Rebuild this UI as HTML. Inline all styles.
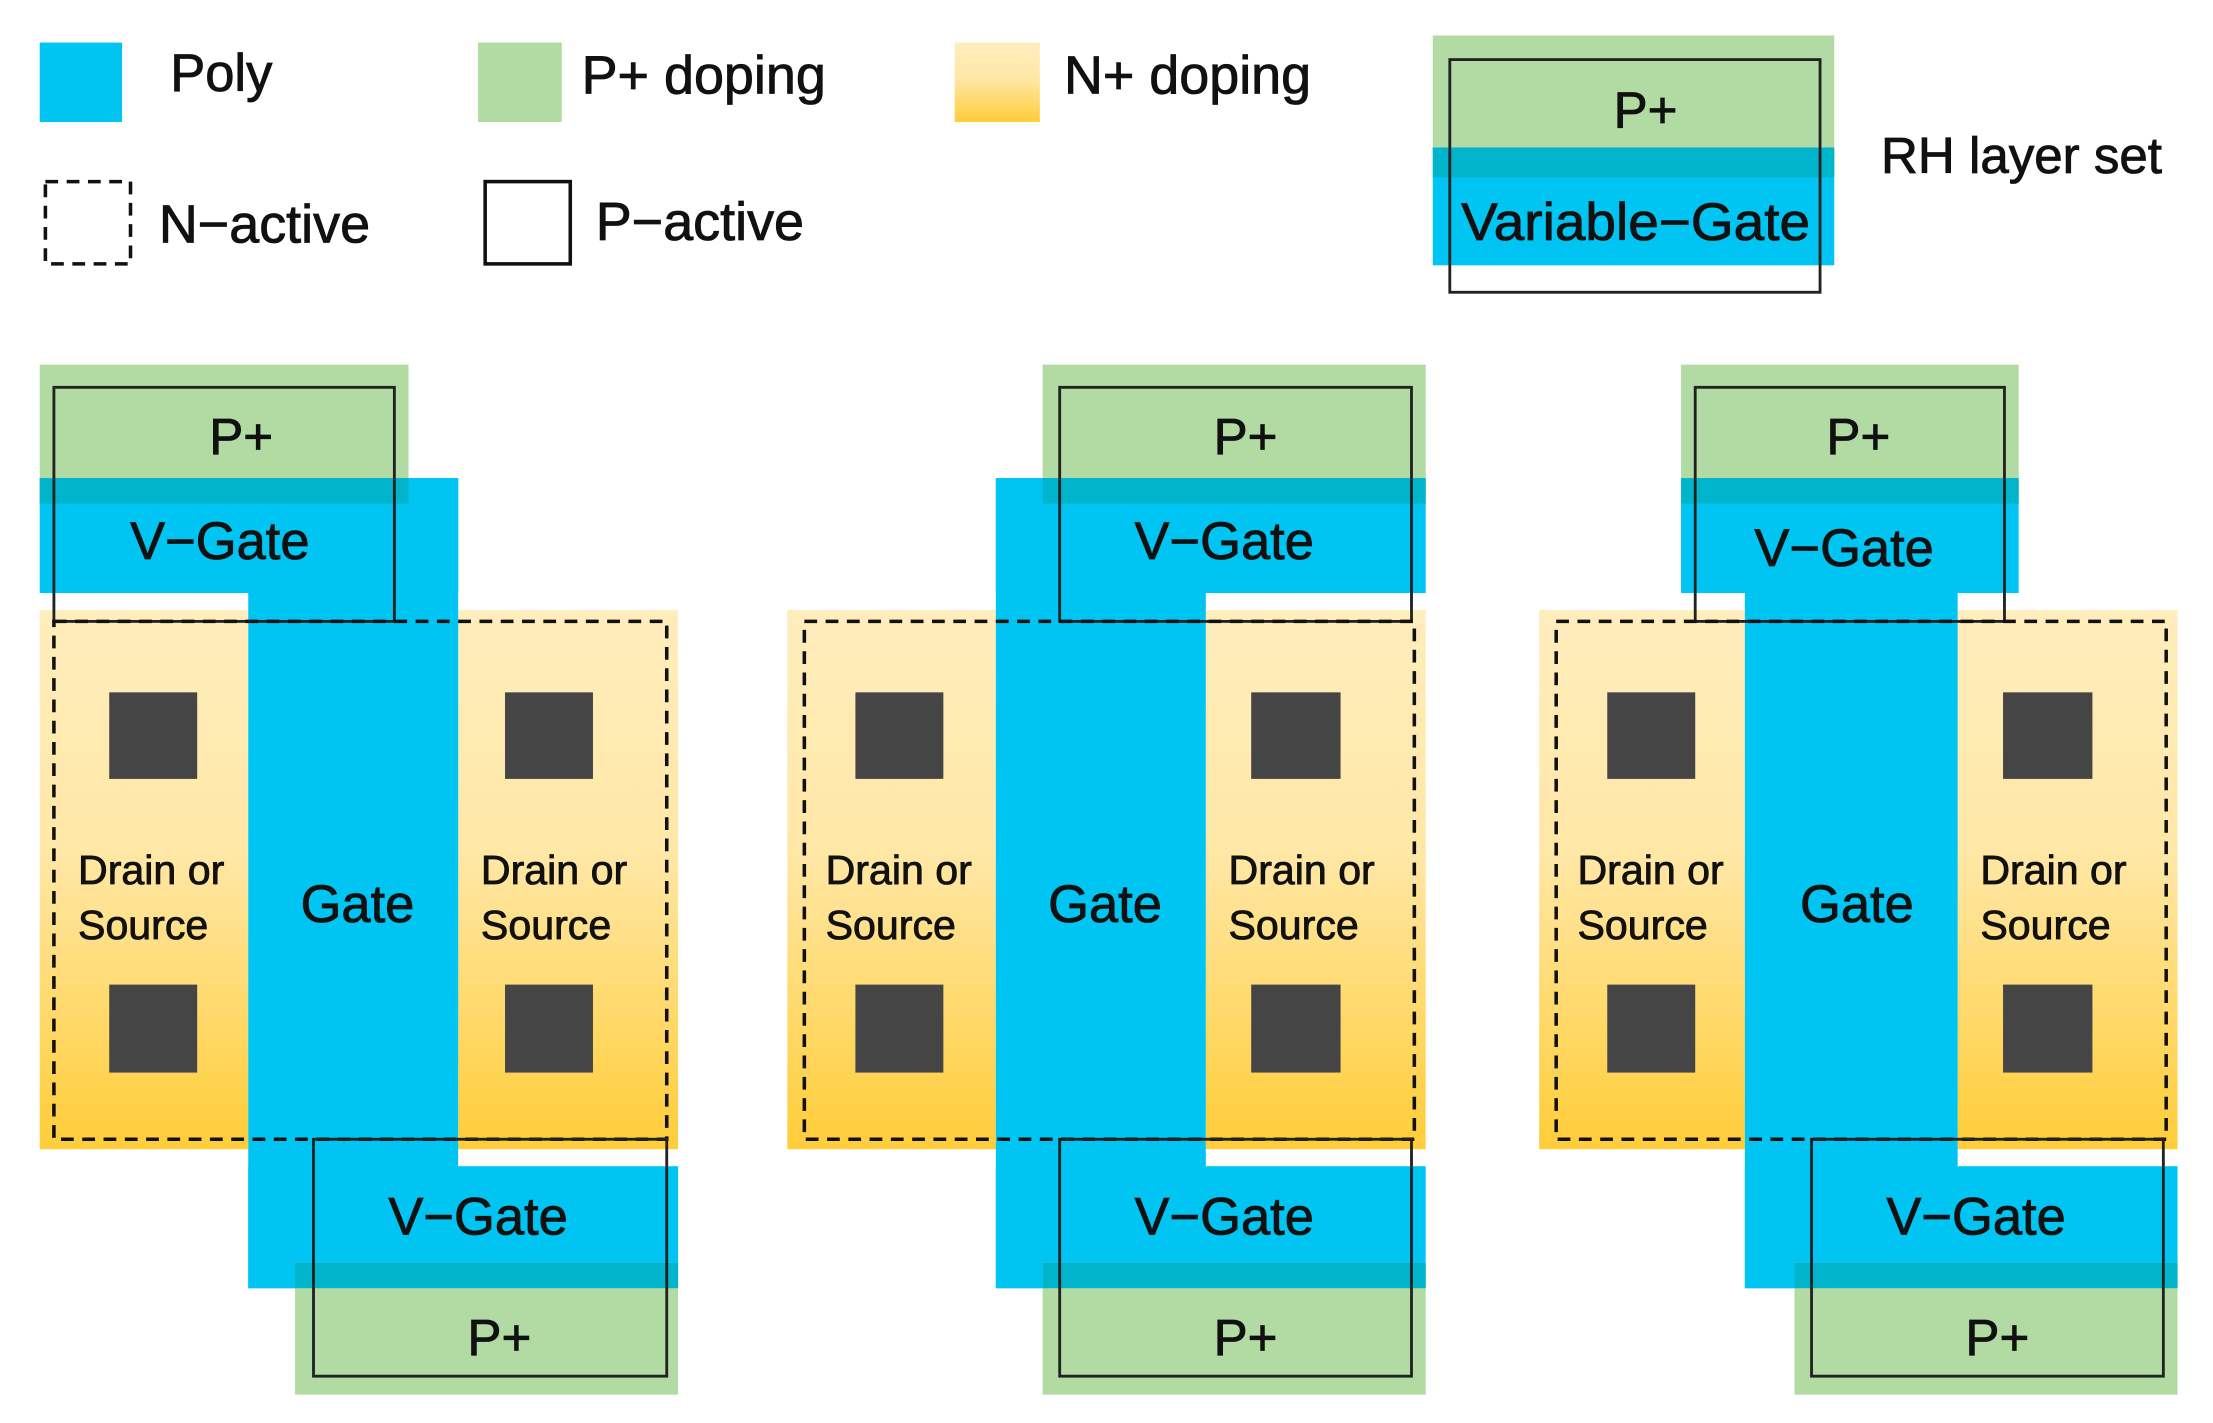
<!DOCTYPE html>
<html><head><style>
html,body{margin:0;padding:0;background:#fff;}
svg{display:block;}
text{font-family:"Liberation Sans",sans-serif;fill:#111;stroke:#111;stroke-width:0.6;}
</style></head><body>
<svg width="2213" height="1423" viewBox="0 0 1560 1003" preserveAspectRatio="none" xmlns="http://www.w3.org/2000/svg">
<defs>
<linearGradient id="n" x1="0" y1="0" x2="0" y2="1">
<stop offset="0" stop-color="#FFEDBC"/><stop offset="0.45" stop-color="#FFE7A6"/><stop offset="1" stop-color="#FFCD38"/>
</linearGradient>
</defs>
<!-- Legend -->
<rect x="28" y="30" width="58" height="56" fill="#00C5F3"/>
<text x="120" y="64" font-size="37">Poly</text>
<rect x="337" y="30" width="59" height="56" fill="#B1DBA3"/>
<text x="410" y="66" font-size="38">P+ doping</text>
<rect x="673" y="30" width="60" height="56" fill="url(#n)"/>
<text x="750" y="66" font-size="38">N+ doping</text>
<rect x="32" y="128" width="60" height="58" fill="none" stroke="#111" stroke-width="2.5" stroke-dasharray="9,6"/>
<text x="112" y="171" font-size="38">N−active</text>
<rect x="342" y="128" width="60" height="58" fill="none" stroke="#111" stroke-width="2.5"/>
<text x="420" y="169" font-size="38">P−active</text>
<!-- RH set -->
<rect x="1010" y="25" width="283" height="80" fill="#B1DBA3"/>
<rect x="1010" y="104" width="283" height="83" fill="#00C5F3"/>
<rect x="1010" y="104" width="283" height="21" fill="#00B4CC"/>
<rect x="1022" y="42" width="261" height="164" fill="none" stroke="#222" stroke-width="2"/>
<text x="1160" y="90" font-size="36" text-anchor="middle">P+</text>
<text x="1153" y="169" font-size="37" text-anchor="middle" textLength="246" lengthAdjust="spacingAndGlyphs">Variable−Gate</text>
<text x="1326" y="122" font-size="36">RH layer set</text>

<!-- Device 1 -->
<g>
<rect x="28" y="430" width="147" height="380" fill="url(#n)"/>
<rect x="323" y="430" width="155" height="380" fill="url(#n)"/>
<rect x="28" y="257" width="260" height="98" fill="#B1DBA3"/>
<rect x="28" y="337" width="295" height="81" fill="#00C5F3"/>
<rect x="175" y="337" width="148" height="571" fill="#00C5F3"/>
<rect x="28" y="337" width="260" height="18" fill="#00B4CC"/>
<rect x="175" y="822" width="303" height="86" fill="#00C5F3"/>
<rect x="208" y="890" width="270" height="93" fill="#B1DBA3"/>
<rect x="208" y="890" width="270" height="18" fill="#00B4CC"/>
<rect x="77" y="488" width="62" height="61" fill="#454545"/>
<rect x="77" y="694" width="62" height="62" fill="#454545"/>
<rect x="356" y="488" width="62" height="61" fill="#454545"/>
<rect x="356" y="694" width="62" height="62" fill="#454545"/>
<rect x="38" y="273" width="240" height="165" fill="none" stroke="#222" stroke-width="2"/>
<rect x="38" y="438" width="432" height="365" fill="none" stroke="#111" stroke-width="2.5" stroke-dasharray="9,6"/>
<rect x="221" y="803" width="249" height="167" fill="none" stroke="#222" stroke-width="2"/>
<text x="170" y="320" font-size="36" text-anchor="middle">P+</text>
<text x="155" y="394" font-size="37" text-anchor="middle">V−Gate</text>
<text x="252" y="650" font-size="37" text-anchor="middle">Gate</text>
<text x="55" y="623" font-size="29">Drain or</text><text x="55" y="662" font-size="29">Source</text>
<text x="339" y="623" font-size="29">Drain or</text><text x="339" y="662" font-size="29">Source</text>
<text x="337" y="870" font-size="37" text-anchor="middle">V−Gate</text>
<text x="352" y="955" font-size="36" text-anchor="middle">P+</text>
</g>

<!-- Device 2 -->
<g>
<rect x="555" y="430" width="147" height="380" fill="url(#n)"/>
<rect x="850" y="430" width="155" height="380" fill="url(#n)"/>
<rect x="735" y="257" width="270" height="98" fill="#B1DBA3"/>
<rect x="702" y="337" width="303" height="81" fill="#00C5F3"/>
<rect x="702" y="337" width="148" height="571" fill="#00C5F3"/>
<rect x="735" y="337" width="270" height="18" fill="#00B4CC"/>
<rect x="702" y="822" width="303" height="86" fill="#00C5F3"/>
<rect x="735" y="890" width="270" height="93" fill="#B1DBA3"/>
<rect x="735" y="890" width="270" height="18" fill="#00B4CC"/>
<rect x="603" y="488" width="62" height="61" fill="#454545"/>
<rect x="603" y="694" width="62" height="62" fill="#454545"/>
<rect x="882" y="488" width="63" height="61" fill="#454545"/>
<rect x="882" y="694" width="63" height="62" fill="#454545"/>
<rect x="747" y="273" width="248" height="165" fill="none" stroke="#222" stroke-width="2"/>
<rect x="567" y="438" width="430" height="365" fill="none" stroke="#111" stroke-width="2.5" stroke-dasharray="9,6"/>
<rect x="747" y="803" width="248" height="167" fill="none" stroke="#222" stroke-width="2"/>
<text x="878" y="320" font-size="36" text-anchor="middle">P+</text>
<text x="863" y="394" font-size="37" text-anchor="middle">V−Gate</text>
<text x="779" y="650" font-size="37" text-anchor="middle">Gate</text>
<text x="582" y="623" font-size="29">Drain or</text><text x="582" y="662" font-size="29">Source</text>
<text x="866" y="623" font-size="29">Drain or</text><text x="866" y="662" font-size="29">Source</text>
<text x="863" y="870" font-size="37" text-anchor="middle">V−Gate</text>
<text x="878" y="955" font-size="36" text-anchor="middle">P+</text>
</g>

<!-- Device 3 -->
<g>
<rect x="1085" y="430" width="145" height="380" fill="url(#n)"/>
<rect x="1380" y="430" width="155" height="380" fill="url(#n)"/>
<rect x="1185" y="257" width="238" height="98" fill="#B1DBA3"/>
<rect x="1185" y="337" width="238" height="81" fill="#00C5F3"/>
<rect x="1230" y="337" width="150" height="571" fill="#00C5F3"/>
<rect x="1185" y="337" width="238" height="18" fill="#00B4CC"/>
<rect x="1230" y="822" width="305" height="86" fill="#00C5F3"/>
<rect x="1265" y="890" width="270" height="93" fill="#B1DBA3"/>
<rect x="1265" y="890" width="270" height="18" fill="#00B4CC"/>
<rect x="1133" y="488" width="62" height="61" fill="#454545"/>
<rect x="1133" y="694" width="62" height="62" fill="#454545"/>
<rect x="1412" y="488" width="63" height="61" fill="#454545"/>
<rect x="1412" y="694" width="63" height="62" fill="#454545"/>
<rect x="1195" y="273" width="218" height="165" fill="none" stroke="#222" stroke-width="2"/>
<rect x="1097" y="438" width="430" height="365" fill="none" stroke="#111" stroke-width="2.5" stroke-dasharray="9,6"/>
<rect x="1277" y="803" width="248" height="167" fill="none" stroke="#222" stroke-width="2"/>
<text x="1310" y="320" font-size="36" text-anchor="middle">P+</text>
<text x="1300" y="399" font-size="37" text-anchor="middle">V−Gate</text>
<text x="1309" y="650" font-size="37" text-anchor="middle">Gate</text>
<text x="1112" y="623" font-size="29">Drain or</text><text x="1112" y="662" font-size="29">Source</text>
<text x="1396" y="623" font-size="29">Drain or</text><text x="1396" y="662" font-size="29">Source</text>
<text x="1393" y="870" font-size="37" text-anchor="middle">V−Gate</text>
<text x="1408" y="955" font-size="36" text-anchor="middle">P+</text>
</g>
</svg>
</body></html>
